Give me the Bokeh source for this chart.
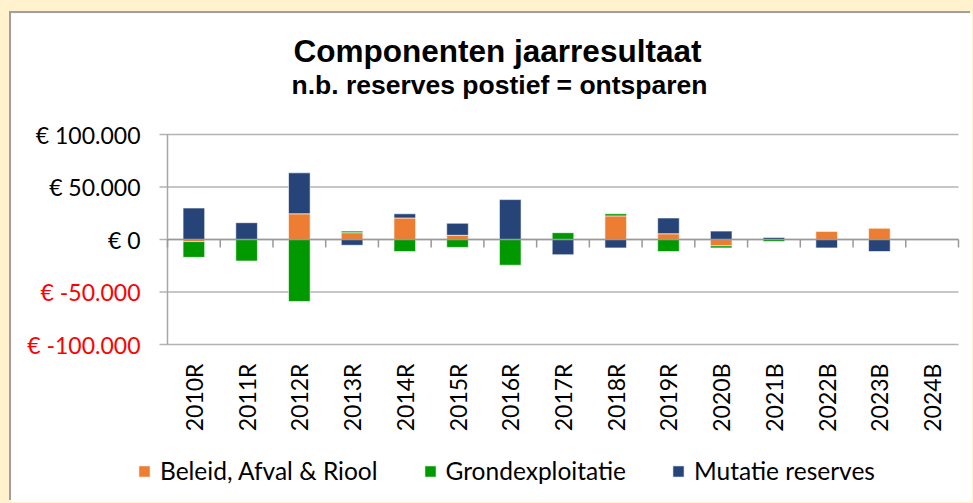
import numpy as np
from bokeh.plotting import figure
from bokeh.models import (ColumnDataSource, Range1d, Label, LabelSet, Legend, LegendItem)
from bokeh.core.properties import value
from bokeh.embed import file_html
from bokeh.resources import INLINE

# ---------------- data ----------------
categories = ["2010R", "2011R", "2012R", "2013R", "2014R", "2015R", "2016R", "2017R",
              "2018R", "2019R", "2020B", "2021B", "2022B", "2023B", "2024B"]
beleid = [-2000, 0, 24500, 6500, 20500, 4000, 0, 0, 22500, 5500, -6000, 0, 8000, 11000, 0]
grondexploitatie = [-15000, -20500, -59000, 1500, -11500, -7500, -24500, 6500, 2000,
                    -11500, -2000, -2000, 0, 0, 0]
mutatie = [30000, 16000, 39000, -5500, 4000, 11500, 38000, -14500, -8000, 15000,
           8000, 2000, -8000, -11500, 0]
series_names = ["Beleid, Afval & Riool", "Grondexploitatie", "Mutatie reserves"]
series_colors = ["#ED7D31", "#009900", "#264478"]
y_ticks = [-100000, -50000, 0, 50000, 100000]
title_text = "Componenten jaarresultaat"
subtitle_text = "n.b. reserves postief = ontsparen"


def euro(v):
    return "€ " + f"{v:,.0f}".replace(",", ".")


# ---------------- layout constants (canvas pixels) ----------------
W, H = 961, 489
AXIS_X = 156          # y-axis position
RIGHT_X = 947         # right end of plotting area
ZERO_Y = 226          # y pixel of value 0
PX_PER_50K = 52.5
n = len(categories)
px_per_cat = (RIGHT_X - AXIS_X) / n
upp = 50000 / PX_PER_50K  # value units per pixel


def dx(px):
    return (px - AXIS_X) / px_per_cat


def dy(py):
    return (ZERO_Y - py) * upp


centers = np.arange(n) + 0.5

p = figure(width=W, height=H, output_backend="svg", toolbar_location=None,
           x_range=Range1d(dx(0), dx(W)), y_range=Range1d(dy(H), dy(0)),
           x_axis_location=None, y_axis_location=None,
           min_border=0, min_border_left=0, min_border_right=0,
           min_border_top=0, min_border_bottom=0)
p.margin = (13, 0, 0, 11)
p.styles = {"box-shadow": "-2px -2px 0 0 #a0a0a0"}
p.background_fill_color = "white"
p.border_fill_color = "white"
p.outline_line_color = None
p.grid.visible = False

FONT = "Lato"

# horizontal gridlines (with their 8px tick stubs left of the axis)
nt = len(y_ticks)
p.segment(x0=np.full(nt, dx(AXIS_X - 8)), x1=np.full(nt, float(n)), y0=y_ticks, y1=y_ticks,
          line_color="#b3b3b3", line_width=1.5)
# vertical axis line
p.segment(x0=[0.0], x1=[0.0], y0=[y_ticks[0]], y1=[y_ticks[-1]],
          line_color="#a6a6a6", line_width=1.5)

# stacked bars (positives stack up, negatives stack down)
pos_base = np.zeros(n)
neg_base = np.zeros(n)
renderers = []
for vals, name, col in zip([beleid, grondexploitatie, mutatie], series_names, series_colors):
    v = np.array(vals, dtype=float)
    bottom = np.where(v >= 0, pos_base, neg_base + v)
    top = np.where(v >= 0, pos_base + v, neg_base)
    pos_base = pos_base + np.where(v >= 0, v, 0)
    neg_base = neg_base + np.where(v < 0, v, 0)
    src = ColumnDataSource(dict(x=centers, top=top, bottom=bottom))
    r = p.vbar(x="x", width=0.41, top="top", bottom="bottom", source=src,
               fill_color=col, line_color="white", line_alpha=0.6, line_width=1)
    renderers.append(r)

# category axis at zero: line plus boundary ticks hanging below it
bounds = np.arange(n + 1, dtype=float)
p.segment(x0=[0.0], x1=[float(n)], y0=[0.0], y1=[0.0], line_color="#999999", line_width=1.5)
p.segment(x0=bounds, x1=bounds, y0=np.zeros(n + 1), y1=np.full(n + 1, -8 * upp),
          line_color="#999999", line_width=1.5)

# y tick labels (negatives in red)
ysrc = ColumnDataSource(dict(x=np.zeros(nt), y=y_ticks, text=[euro(v) for v in y_ticks],
                             color=["red" if v < 0 else "black" for v in y_ticks]))
p.add_layout(LabelSet(x="x", y="y", text="text", source=ysrc, x_offset=-27,
                      text_align="right", text_baseline="middle",
                      text_font=value(FONT), text_font_size="23px", text_color="color"))

# category labels, vertical, below the plotting area
xsrc = ColumnDataSource(dict(x=centers, y=np.full(n, float(y_ticks[0])), text=categories))
p.add_layout(LabelSet(x="x", y="y", text="text", source=xsrc, y_offset=-19,
                      angle=np.pi / 2, text_align="right", text_baseline="middle",
                      text_font=value(FONT), text_font_size="23px", text_color="black"))

# titles
p.add_layout(Label(x=dx(486), y=dy(37), text=title_text,
                   text_align="center", text_baseline="alphabetic",
                   text_font="Liberation Sans", text_font_style="bold",
                   text_font_size="31.5px", text_color="black"))
p.add_layout(Label(x=dx(488), y=dy(71), text=subtitle_text,
                   text_align="center", text_baseline="alphabetic",
                   text_font="Liberation Sans", text_font_style="bold",
                   text_font_size="26.5px", text_color="black"))

# legend
legend = Legend(items=[LegendItem(label=nm, renderers=[r])
                       for nm, r in zip(series_names, renderers)],
                orientation="horizontal", location=(126, 17))
legend.glyph_width = 14
legend.glyph_height = 14
legend.label_standoff = 9
legend.spacing = 45
legend.padding = 0
legend.margin = 0
legend.border_line_color = None
legend.background_fill_alpha = 0
legend.label_text_font = FONT
legend.label_text_font_size = "24.5px"
legend.label_text_color = "black"
p.add_layout(legend, "center")

html = file_html(p, INLINE)
html = html.replace("</head>", "<style>body{background:#FFF2CC;}</style></head>", 1)
open("out.html", "w").write(html)
